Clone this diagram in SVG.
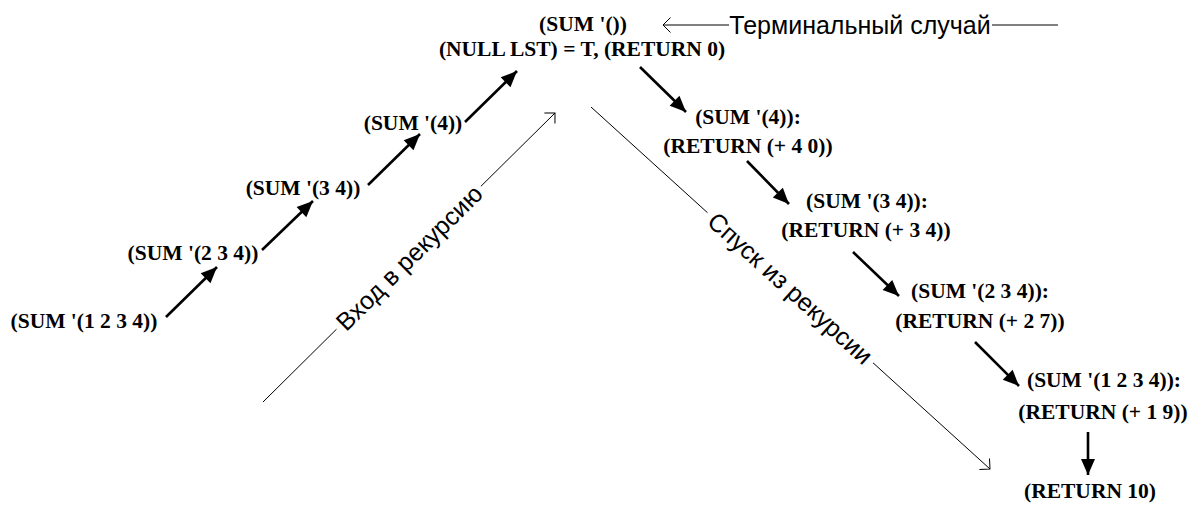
<svg xmlns="http://www.w3.org/2000/svg" width="1189" height="505" viewBox="0 0 1189 505">
<style>
.t{font-family:"Liberation Serif","Times New Roman",serif;font-weight:bold;font-size:21.5px;fill:#000;text-anchor:middle}
.l{font-family:"Liberation Sans",Arial,sans-serif;font-size:25px;fill:#000;text-anchor:middle}
.thick{stroke:#000;stroke-width:2.6;fill:none;marker-end:url(#fill)}
.thin{stroke:#000;stroke-width:1;fill:none}
.tip{marker-end:url(#open)}
</style>
<defs>
<marker id="fill" markerUnits="userSpaceOnUse" markerWidth="18" markerHeight="14" refX="16" refY="7" orient="auto" overflow="visible">
<path d="M0,0 L16,7 L0,14 z" fill="#000"/>
</marker>
<marker id="open" markerUnits="userSpaceOnUse" markerWidth="12" markerHeight="18" refX="8" refY="8" orient="auto" overflow="visible">
<path d="M0.5,0.5 L8,8 L0.5,15.5" fill="none" stroke="#000" stroke-width="1"/>
</marker>
</defs>
<rect width="1189" height="505" fill="#fff"/>
<g id="connectors">
<line class="thick" x1="166" y1="317" x2="217" y2="267"/>
<line class="thick" x1="262" y1="250" x2="313" y2="201"/>
<line class="thick" x1="368" y1="185" x2="420" y2="134"/>
<line class="thick" x1="465" y1="122" x2="517" y2="71"/>
<line class="thick" x1="640" y1="67" x2="686" y2="112"/>
<line class="thick" x1="747" y1="161" x2="789" y2="204"/>
<line class="thick" x1="853" y1="252" x2="899" y2="296"/>
<line class="thick" x1="975" y1="342" x2="1019" y2="386"/>
<line class="thick" x1="1088" y1="432" x2="1088" y2="475"/>
<line class="thin" x1="1058" y1="25" x2="992" y2="25"/>
<line class="thin tip" x1="729" y1="25" x2="663" y2="25"/>
<line class="thin" x1="263" y1="402" x2="336.5" y2="329.2"/>
<line class="thin tip" x1="480.9" y1="186.3" x2="555" y2="113"/>
<line class="thin" x1="591" y1="107" x2="707.5" y2="212.7"/>
<line class="thin tip" x1="873" y1="362.8" x2="990" y2="469"/>
<text class="l" x="860" y="34">Терминальный случай</text>
<text class="l" transform="translate(409,257.5) rotate(-44.7)" x="0" y="9">Вход в рекурсию</text>
<text class="l" transform="translate(790.5,288) rotate(42.2)" x="0" y="9">Спуск из рекурсии</text>
</g>
<g id="n-sum-empty">
<text class="t" x="583" y="31">(SUM '())</text>
<text class="t" x="582" y="56">(NULL LST) = T, (RETURN 0)</text>
</g>
<g id="n-sum-1234"><text class="t" x="84" y="328">(SUM '(1 2 3 4))</text></g>
<g id="n-sum-234"><text class="t" x="193" y="260">(SUM '(2 3 4))</text></g>
<g id="n-sum-34"><text class="t" x="303" y="195">(SUM '(3 4))</text></g>
<g id="n-sum-4"><text class="t" x="413" y="130">(SUM '(4))</text></g>
<g id="r-sum-4">
<text class="t" x="748" y="124">(SUM '(4)):</text>
<text class="t" x="748" y="153">(RETURN (+ 4 0))</text>
</g>
<g id="r-sum-34">
<text class="t" x="867" y="208">(SUM '(3 4)):</text>
<text class="t" x="866" y="237">(RETURN (+ 3 4))</text>
</g>
<g id="r-sum-234">
<text class="t" x="980" y="298">(SUM '(2 3 4)):</text>
<text class="t" x="980" y="328">(RETURN (+ 2 7))</text>
</g>
<g id="r-sum-1234">
<text class="t" x="1104" y="387">(SUM '(1 2 3 4)):</text>
<text class="t" x="1103" y="419">(RETURN (+ 1 9))</text>
</g>
<g id="result"><text class="t" x="1090" y="498">(RETURN 10)</text></g>
</svg>
